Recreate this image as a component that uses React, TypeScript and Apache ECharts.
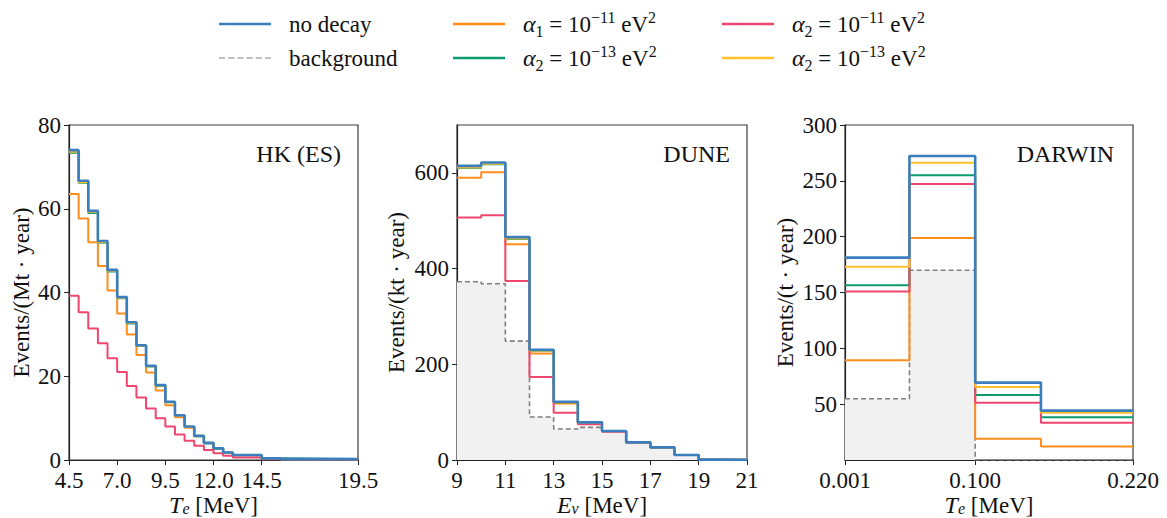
import React, { useEffect, useRef } from "react";
import * as echarts from "echarts";

const FONT = "'Liberation Serif', 'DejaVu Serif', serif";

// ---------- data ----------
const hkEdges = [4.5, 5, 5.5, 6, 6.5, 7, 7.5, 8, 8.5, 9, 9.5, 10, 10.5, 11, 11.5, 12, 12.5, 13, 14.5, 15.5, 19.5];
const hkNoDecay = [74.0, 66.7, 59.5, 52.3, 45.4, 38.9, 32.9, 27.4, 22.5, 17.9, 13.9, 10.7, 8.0, 5.8, 4.1, 2.8, 1.8, 1.2, 0.4, 0.2];
const hkA1e11 = [63.5, 57.7, 52.0, 46.3, 40.5, 35.0, 30.0, 25.1, 20.9, 16.6, 13.1, 10.2, 7.7, 5.7, 4.0, 2.6, 1.75, 1.1, 0.35, 0.15];
const hkA2e11 = [39.2, 35.3, 31.4, 27.9, 24.3, 21.0, 17.7, 14.9, 12.3, 10.0, 8.0, 6.1, 4.6, 3.4, 2.4, 1.6, 1.0, 0.6, 0.2, 0.1];
const hkA2e13g = [73.4, 66.2, 59.0, 51.9, 45.0, 38.6, 32.6, 27.2, 22.3, 17.7, 13.8, 10.6, 7.9, 5.7, 4.0, 2.7, 1.8, 1.2, 0.4, 0.25];
const hkA2e13y = [73.6, 66.3, 59.2, 52.0, 45.2, 38.7, 32.7, 27.3, 22.4, 17.8, 13.8, 10.6, 7.9, 5.8, 4.1, 2.8, 1.8, 1.2, 0.4, 0.2];
const hkXTicks = [4.5, 7.0, 9.5, 12.0, 14.5, 19.5];
const hkYTicks = [0, 20, 40, 60, 80];

const duneEdges = [9, 10, 11, 12, 13, 14, 15, 16, 17, 18, 19, 20, 21];
const duneNoDecay = [614.6, 621.6, 465.7, 230.4, 121.8, 78.7, 60.6, 36.9, 26.4, 10.4, 0.7, 0.3];
const duneA1e11 = [589.6, 601.4, 451.0, 222.7, 118.3, 76.6, 60.0, 36.5, 26.2, 10.3, 0.6, 0.3];
const duneA2e11 = [506.7, 511.6, 373.8, 173.3, 98.8, 74.5, 59.2, 36.0, 26.0, 10.2, 0.6, 0.3];
const duneA2e13g = [610.0, 618.0, 462.0, 228.5, 120.7, 78.2, 60.4, 36.8, 26.3, 10.4, 0.7, 0.3];
const duneA2e13y = [611.0, 619.0, 463.0, 229.0, 121.0, 78.3, 60.4, 36.8, 26.3, 10.4, 0.7, 0.3];
const duneBackground = [372.4, 368.2, 248.5, 89.8, 64.7, 68.2, 60.0, 36.5, 26.0, 10.0, 0.5, 0.2];
const duneXTicks = [9, 11, 13, 15, 17, 19, 21];
const duneYTicks = [0, 200, 400, 600];

const darwinEdges = [0.001, 0.05, 0.1, 0.15, 0.22];
const darwinNoDecay = [181.2, 272.2, 69.3, 44.2];
const darwinA1e11 = [89.3, 198.8, 19.1, 12.2];
const darwinA2e11 = [151.0, 247.2, 51.3, 33.4];
const darwinA2e13g = [156.4, 254.9, 58.2, 38.2];
const darwinA2e13y = [173.1, 266.3, 65.4, 42.4];
const darwinBackground = [54.9, 169.9, 0, 0];
const darwinXTicks = [0.001, 0.1, 0.22];
const darwinYTicks = [50, 100, 150, 200, 250, 300];

const panelTitles = ["HK (ES)", "DUNE", "DARWIN"];
const yNames = ["Events/(Mt · year)", "Events/(kt · year)", "Events/(t · year)"];

// ---------- styles ----------
const C = {
  nodecay: "#3b7ebf",
  background: "#808080",
  a1e11: "#ff8d1e",
  a2e13g: "#0b9b6f",
  a2e11: "#ef4670",
  a2e13y: "#ffc12c",
};

const legendText: Record<string, string> = {
  nodecay: "no decay",
  background: "background",
  a1e11: "{i|α}{s|1}{n| = 10}{p|−11}{n| eV}{p|2}",
  a2e13g: "{i|α}{s|2}{n| = 10}{p|−13}{n| eV}{p|2}",
  a2e11: "{i|α}{s|2}{n| = 10}{p|−11}{n| eV}{p|2}",
  a2e13y: "{i|α}{s|2}{n| = 10}{p|−13}{n| eV}{p|2}",
};

const richMath = {
  n: { fontFamily: FONT, fontSize: 23, color: "#111", lineHeight: 30 },
  i: { fontFamily: FONT, fontSize: 24, fontStyle: "italic", color: "#111", lineHeight: 30 },
  s: { fontFamily: FONT, fontSize: 16, color: "#111", lineHeight: 16, verticalAlign: "bottom" },
  p: { fontFamily: FONT, fontSize: 16, color: "#111", lineHeight: 16, verticalAlign: "top" },
};

const richName = {
  n: { fontFamily: FONT, fontSize: 23, color: "#111", lineHeight: 22 },
  i: { fontFamily: FONT, fontSize: 24, fontStyle: "italic", color: "#111", lineHeight: 22 },
  si: { fontFamily: FONT, fontSize: 16, fontStyle: "italic", color: "#111", lineHeight: 10, verticalAlign: "bottom" },
};

function stepData(edges: number[], vals: number[]) {
  return edges.map((e, i) => [e, vals[Math.min(i, vals.length - 1)]]);
}

function line(name: string, idx: number, edges: number[], vals: number[], width = 2, extra: any = {}) {
  return {
    type: "line",
    name,
    xAxisIndex: idx,
    yAxisIndex: idx,
    step: "end",
    data: stepData(edges, vals),
    symbol: "none",
    showSymbol: false,
    silent: true,
    lineStyle: { color: (C as any)[name], width },
    itemStyle: { color: (C as any)[name] },
    ...extra,
  };
}

function bg(idx: number, edges: number[], vals: number[]) {
  return line("background", idx, edges, vals, 1.6, {
    lineStyle: { color: C.background, width: 1.6, type: [5, 3] },
    areaStyle: { color: "#f1f1f1", opacity: 1 },
  });
}

const grids = [
  { left: 69, top: 125, width: 289, height: 335 },
  { left: 457, top: 125, width: 290, height: 335 },
  { left: 845, top: 125, width: 288, height: 335 },
].map((g) => ({
  ...g,
  show: true,
  containLabel: false,
  outerBoundsMode: "none",
  borderColor: "#3a3a3a",
  borderWidth: 1.2,
  backgroundColor: "transparent",
}));

const axisCommon = {
  axisLine: { show: true, onZero: false, lineStyle: { color: "#222", width: 1.2 } },
  axisTick: { show: true, inside: false, length: 5, lineStyle: { color: "#222", width: 1 } },
  splitLine: { show: false },
  axisLabel: { fontFamily: FONT, fontSize: 23, color: "#111", lineHeight: 20, margin: 10 },
};

function xAxis(idx: number, min: number, max: number, ticks: number[], fmt: (v: number) => string, name: string) {
  return {
    type: "value",
    gridIndex: idx,
    min,
    max,
    ...axisCommon,
    axisTick: { ...axisCommon.axisTick, customValues: ticks },
    axisLabel: { ...axisCommon.axisLabel, customValues: ticks, formatter: (v: number) => fmt(v) },
    name,
    nameLocation: "middle",
    nameGap: 34,
    nameMoveOverlap: false,
    nameTextStyle: { fontFamily: FONT, fontSize: 23, color: "#111", lineHeight: 22, rich: richName },
  };
}

function yAxis(idx: number, min: number, max: number, ticks: number[], name: string, gap: number) {
  return {
    type: "value",
    gridIndex: idx,
    min,
    max,
    ...axisCommon,
    axisTick: { ...axisCommon.axisTick, customValues: ticks },
    axisLabel: { ...axisCommon.axisLabel, margin: 8, customValues: ticks },
    name,
    nameLocation: "middle",
    nameGap: gap,
    nameMoveOverlap: false,
    nameTextStyle: { fontFamily: FONT, fontSize: 23, color: "#111" },
  };
}

const dashIcon = "path://M0,0h6v1h-6zM9.2,0h6v1h-6zM18.4,0h6v1h-6zM27.6,0h6v1h-6zM36.8,0h6v1h-6zM46,0h6v1h-6z";

function legendBlock(left: number, names: string[]) {
  return {
    orient: "vertical",
    left,
    top: 9,
    padding: 0,
    itemGap: 4,
    itemWidth: 52,
    itemHeight: 2.5,
    selectedMode: false,
    data: names.map((n) => ({ name: n, icon: n === "background" ? dashIcon : "rect" })),
    formatter: (n: string) => legendText[n],
    textStyle: {
      fontFamily: FONT,
      fontSize: 23,
      color: "#111",
      lineHeight: 30,
      padding: [0, 0, 0, 13],
      rich: richMath,
    },
  };
}

export default function App() {
  const ref = useRef<HTMLDivElement>(null);
  useEffect(() => {
    if (!ref.current) return;
    const chart = echarts.init(ref.current, undefined, { renderer: "svg" });
    const option: any = {
      animation: false,
      backgroundColor: "#ffffff",
      textStyle: { fontFamily: FONT },
      legend: [
        legendBlock(219, ["nodecay", "background"]),
        legendBlock(453, ["a1e11", "a2e13g"]),
        legendBlock(722, ["a2e11", "a2e13y"]),
      ],
      title: [
        { text: panelTitles[0], right: 1167 - 341, top: 142 },
        { text: panelTitles[1], right: 1167 - 730, top: 142 },
        { text: panelTitles[2], right: 1167 - 1114, top: 142 },
      ].map((t) => ({ ...t, padding: 0, textStyle: { fontFamily: FONT, fontSize: 24, fontWeight: "normal", color: "#111" } })),
      grid: grids,
      xAxis: [
        xAxis(0, 4.5, 19.5, hkXTicks, (v) => v.toFixed(1), "{i|T}{si|e}{n| [MeV]}"),
        xAxis(1, 9, 21, duneXTicks, (v) => String(v), "{i|E}{si|ν}{n| [MeV]}"),
        xAxis(2, 0.001, 0.22, darwinXTicks, (v) => v.toFixed(3), "{i|T}{si|e}{n| [MeV]}"),
      ],
      yAxis: [
        yAxis(0, 0, 80, hkYTicks, yNames[0], 36),
        yAxis(1, 0, 700, duneYTicks, yNames[1], 49),
        yAxis(2, 0, 300, darwinYTicks, yNames[2], 48),
      ],
      series: [
        // HK
        line("a1e11", 0, hkEdges, hkA1e11),
        line("a2e13g", 0, hkEdges, hkA2e13g),
        line("a2e11", 0, hkEdges, hkA2e11),
        line("a2e13y", 0, hkEdges, hkA2e13y),
        line("nodecay", 0, hkEdges, hkNoDecay, 2.6),
        // DUNE
        bg(1, duneEdges, duneBackground),
        line("a1e11", 1, duneEdges, duneA1e11),
        line("a2e13g", 1, duneEdges, duneA2e13g),
        line("a2e11", 1, duneEdges, duneA2e11),
        line("a2e13y", 1, duneEdges, duneA2e13y),
        line("nodecay", 1, duneEdges, duneNoDecay, 2.6),
        // DARWIN
        bg(2, darwinEdges, darwinBackground),
        line("a1e11", 2, darwinEdges, darwinA1e11),
        line("a2e13g", 2, darwinEdges, darwinA2e13g),
        line("a2e11", 2, darwinEdges, darwinA2e11),
        line("a2e13y", 2, darwinEdges, darwinA2e13y),
        line("nodecay", 2, darwinEdges, darwinNoDecay, 2.6),
      ],
    };
    chart.setOption(option);
    return () => chart.dispose();
  }, []);
  return (
    <div
      ref={ref}
      style={{ position: "fixed", left: 0, top: 0, width: 1167, height: 518, background: "#fff" }}
    />
  );
}
